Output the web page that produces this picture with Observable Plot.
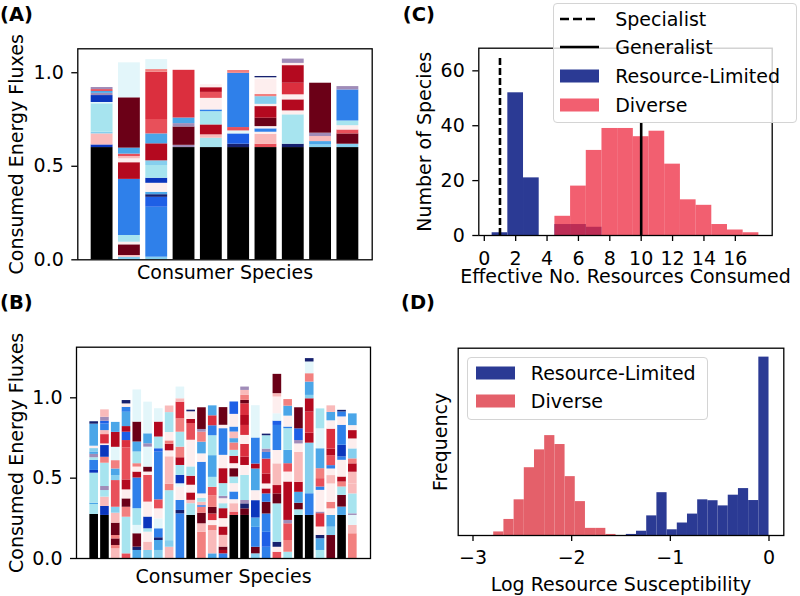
<!DOCTYPE html>
<html><head><meta charset="utf-8">
<script src="https://cdn.jsdelivr.net/npm/d3@7"></script>
<script src="https://cdn.jsdelivr.net/npm/@observablehq/plot@0.6"></script>
<style>
body{margin:0;background:#fff;font-family:"DejaVu Sans",sans-serif;}
#fig{position:relative;width:800px;height:596px;overflow:hidden;background:#fff;}
.panel{position:absolute;}
.legend{position:absolute;background:rgba(255,255,255,0.8);border:1px solid #d4d4d4;border-radius:4px;box-sizing:border-box;font-size:19px;color:#000;}
#tags{position:absolute;left:0;top:0;pointer-events:none;}
</style></head><body><div id="fig"></div>
<script>
// ---------- data ----------
// Panel A: 10 consumer species, stacked energy fluxes [value, resource-colour code]
const A1 = [[0.60,"K"],[0.014,"D"],[0.059,"Q"],[0.009,"L"],[0.152,"C"],[0.007,"P"],[0.037,"D"],[0.012,"V"],[0.01,"S"],[0.01,"O"],[0.011,"V"]];
const A2 = [[0.014,"L"],[0.009,"Q"],[0.057,"X"],[0.014,"W"],[0.036,"C"],[0.30,"M"],[0.089,"E"],[0.021,"W"],[0.012,"Q"],[0.013,"O"],[0.032,"S"],[0.269,"X"],[0.187,"P"]];
const A3 = [[0.014,"L"],[0.267,"M"],[0.053,"B"],[0.014,"N"],[0.013,"S"],[0.048,"W"],[0.027,"D"],[0.068,"C"],[0.025,"L"],[0.091,"E"],[0.053,"S"],[0.077,"O"],[0.253,"R"],[0.014,"F"],[0.053,"P"]];
const A4 = [[0.60,"K"],[0.012,"V"],[0.098,"X"],[0.018,"V"],[0.03,"S"],[0.255,"R"]];
const A5 = [[0.60,"K"],[0.05,"C"],[0.018,"Q"],[0.053,"E"],[0.071,"C"],[0.009,"M"],[0.062,"W"],[0.032,"O"],[0.025,"E"],[0.016,"W"]];
const A6 = [[0.60,"K"],[0.018,"N"],[0.055,"B"],[0.016,"P"],[0.018,"O"],[0.29,"M"],[0.015,"F"]];
const A7 = [[0.60,"K"],[0.018,"O"],[0.053,"Q"],[0.011,"W"],[0.018,"M"],[0.012,"W"],[0.045,"X"],[0.062,"E"],[0.012,"W"],[0.041,"L"],[0.012,"F"],[0.08,"W"],[0.009,"Z"],[0.007,"N"]];
const A8 = [[0.60,"K"],[0.018,"N"],[0.157,"C"],[0.021,"W"],[0.059,"E"],[0.027,"W"],[0.062,"R"],[0.094,"E"],[0.012,"W"],[0.023,"V"]];
const A9 = [[0.60,"K"],[0.014,"L"],[0.018,"S"],[0.027,"Q"],[0.018,"V"],[0.267,"X"]];
const A10 = [[0.60,"K"],[0.018,"L"],[0.055,"X"],[0.021,"O"],[0.023,"W"],[0.025,"C"],[0.166,"M"],[0.018,"V"]];
const barsA = [A1,A2,A3,A4,A5,A6,A7,A8,A9,A10];

// Panel B: 25 consumer species
const B1 = [[0.274,"K"],[0.062,"C"],[0.008,"S"],[0.187,"C"],[0.017,"D"],[0.062,"M"],[0.017,"C"],[0.021,"V"],[0.015,"S"],[0.021,"L"],[0.015,"W"],[0.137,"S"],[0.015,"N"]];
const B2 = [[0.268,"K"],[0.056,"D"],[0.058,"Q"],[0.041,"C"],[0.025,"V"],[0.145,"C"],[0.037,"F"],[0.073,"D"],[0.01,"W"],[0.058,"R"],[0.025,"Q"],[0.041,"M"],[0.017,"B"],[0.025,"V"],[0.046,"Q"]];
const B3 = [[0.06,"Q"],[0.021,"F"],[0.041,"X"],[0.021,"F"],[0.077,"X"],[0.062,"Q"],[0.037,"L"],[0.166,"O"],[0.031,"L"],[0.041,"S"],[0.052,"F"],[0.083,"P"],[0.093,"E"],[0.062,"S"]];
const B4 = [[0.029,"O"],[0.228,"C"],[0.062,"F"],[0.052,"X"],[0.056,"W"],[0.062,"E"],[0.199,"O"],[0.046,"R"],[0.052,"B"],[0.035,"E"],[0.089,"S"],[0.031,"M"],[0.021,"W"],[0.021,"N"]];
const B5 = [[0.05,"S"],[0.021,"N"],[0.083,"X"],[0.052,"P"],[0.104,"C"],[0.191,"M"],[0.037,"E"],[0.031,"W"],[0.021,"F"],[0.073,"C"],[0.062,"S"],[0.124,"X"],[0.2,"P"]];
const B6 = [[0.05,"L"],[0.052,"Q"],[0.062,"W"],[0.021,"C"],[0.073,"D"],[0.093,"W"],[0.166,"O"],[0.021,"W"],[0.031,"X"],[0.124,"P"],[0.021,"V"],[0.062,"S"],[0.197,"P"]];
const B7 = [[0.05,"L"],[0.062,"S"],[0.017,"N"],[0.056,"M"],[0.062,"P"],[0.062,"W"],[0.056,"O"],[0.297,"M"],[0.021,"B"],[0.073,"C"],[0.093,"E"],[0.083,"P"]];
const B8 = [[0.07,"Q"],[0.041,"L"],[0.311,"C"],[0.041,"F"],[0.17,"Q"],[0.037,"W"],[0.041,"E"],[0.021,"F"],[0.052,"W"],[0.124,"C"],[0.041,"Q"]];
const B9 = [[0.278,"M"],[0.021,"N"],[0.062,"M"],[0.083,"W"],[0.021,"P"],[0.052,"D"],[0.062,"C"],[0.048,"E"],[0.066,"F"],[0.093,"C"],[0.083,"F"],[0.104,"R"],[0.021,"Q"],[0.073,"P"]];
const B10 = [[0.268,"K"],[0.073,"C"],[0.021,"Q"],[0.046,"E"],[0.048,"W"],[0.056,"E"],[0.058,"C"],[0.166,"W"],[0.104,"O"],[0.025,"E"],[0.048,"W"],[0.01,"N"]];
const B11 = [[0.164,"F"],[0.052,"Q"],[0.066,"X"],[0.037,"F"],[0.01,"M"],[0.021,"Q"],[0.025,"C"],[0.027,"W"],[0.197,"M"],[0.052,"W"],[0.073,"S"],[0.062,"F"],[0.017,"V"],[0.135,"X"]];
const B12 = [[0.029,"S"],[0.145,"Q"],[0.031,"F"],[0.031,"W"],[0.041,"R"],[0.041,"X"],[0.073,"F"],[0.052,"O"],[0.062,"C"],[0.135,"S"],[0.124,"C"],[0.062,"M"],[0.062,"R"],[0.062,"S"]];
const B13 = [[0.029,"M"],[0.021,"E"],[0.021,"X"],[0.073,"Q"],[0.052,"E"],[0.052,"W"],[0.062,"E"],[0.031,"C"],[0.031,"W"],[0.015,"V"],[0.079,"C"],[0.093,"E"],[0.083,"W"],[0.166,"M"],[0.021,"W"],[0.11,"X"]];
const B14 = [[0.268,"K"],[0.021,"O"],[0.052,"Q"],[0.025,"W"],[0.048,"M"],[0.052,"W"],[0.041,"C"],[0.052,"X"],[0.031,"W"],[0.046,"E"],[0.037,"C"],[0.046,"F"],[0.027,"S"],[0.041,"Q"],[0.031,"M"],[0.079,"W"],[0.077,"B"]];
const B15 = [[0.268,"K"],[0.041,"X"],[0.031,"N"],[0.021,"V"],[0.156,"C"],[0.062,"W"],[0.052,"E"],[0.079,"R"],[0.056,"W"],[0.062,"R"],[0.062,"E"],[0.073,"R"],[0.021,"X"],[0.031,"F"],[0.031,"Q"],[0.021,"V"]];
const B16 = [[0.029,"L"],[0.041,"X"],[0.124,"M"],[0.058,"S"],[0.108,"D"],[0.062,"W"],[0.135,"S"],[0.031,"E"],[0.162,"M"],[0.201,"P"]];
const B17 = [[0.07,"M"],[0.093,"B"],[0.114,"M"],[0.073,"X"],[0.052,"M"],[0.031,"E"],[0.031,"W"],[0.062,"E"],[0.093,"R"],[0.041,"M"],[0.021,"V"],[0.083,"C"],[0.01,"N"]];
const B18 = [[0.039,"O"],[0.031,"W"],[0.031,"N"],[0.239,"C"],[0.062,"X"],[0.052,"E"],[0.135,"Q"],[0.083,"W"],[0.156,"M"],[0.027,"B"],[0.046,"P"],[0.104,"W"],[0.021,"Q"],[0.12,"X"]];
const B19 = [[0.039,"C"],[0.073,"F"],[0.104,"O"],[0.021,"V"],[0.239,"E"],[0.062,"W"],[0.052,"O"],[0.083,"S"],[0.135,"C"],[0.01,"M"],[0.068,"W"],[0.062,"S"],[0.041,"F"]];
const B20 = [[0.268,"K"],[0.035,"C"],[0.041,"X"],[0.068,"S"],[0.062,"E"],[0.187,"Q"],[0.052,"W"],[0.021,"V"],[0.073,"B"],[0.131,"X"]];
const B21 = [[0.268,"K"],[0.135,"M"],[0.315,"L"],[0.062,"E"],[0.131,"R"],[0.083,"E"],[0.021,"L"],[0.083,"S"],[0.052,"F"],[0.073,"P"],[0.021,"N"]];
const B22 = [[0.05,"C"],[0.073,"S"],[0.021,"N"],[0.052,"W"],[0.083,"R"],[0.01,"V"],[0.135,"W"],[0.021,"M"],[0.052,"O"],[0.062,"F"],[0.124,"S"],[0.124,"P"],[0.124,"C"]];
const B23 = [[0.143,"X"],[0.052,"L"],[0.073,"S"],[0.041,"W"],[0.041,"F"],[0.114,"W"],[0.052,"Q"],[0.041,"W"],[0.021,"M"],[0.062,"O"],[0.041,"E"],[0.124,"R"],[0.052,"W"],[0.052,"S"],[0.041,"Q"]];
const B24 = [[0.268,"K"],[0.052,"S"],[0.073,"X"],[0.052,"C"],[0.031,"F"],[0.031,"E"],[0.104,"W"],[0.021,"M"],[0.073,"D"],[0.124,"M"],[0.052,"W"],[0.031,"M"],[0.01,"N"]];
const B25 = [[0.154,"F"],[0.052,"Q"],[0.062,"P"],[0.01,"V"],[0.124,"C"],[0.062,"Q"],[0.073,"Q"],[0.052,"E"],[0.031,"F"],[0.062,"L"],[0.062,"W"],[0.052,"E"],[0.031,"W"],[0.073,"S"]];
const barsB = [B1,B2,B3,B4,B5,B6,B7,B8,B9,B10,B11,B12,B13,B14,B15,B16,B17,B18,B19,B20,B21,B22,B23,B24,B25];

const yTicksAB = [0, 0.5, 1.0];

// Panel C: histogram of effective number of resources consumed (bin centres, counts)
const cLimitedBins = [1, 2, 3, 5, 6, 7];
const cLimitedCounts = [1, 52, 21, 4, 4, 3];
const cDiverseBins = [5, 6, 7, 8, 9, 10, 11, 12, 13, 14, 15, 16, 17];
const cDiverseCounts = [7, 18, 31, 39, 39, 36, 38, 26, 13, 11, 4, 2, 1];
const cBinWidth = 1;
const cSpecialist = 1, cGeneralist = 10;
const cSpecialistTop = 65, cGeneralistTop = 41;
const cXTicks = [0, 2, 4, 6, 8, 10, 12, 14, 16];
const cYTicks = [0, 20, 40, 60];

// Panel D: histogram of log resource susceptibility
const dDiverseStart = -2.79, dLimitedStart = -1.446, dBinWidth = 0.1033;
const dDiverseCounts = [2, 9, 20, 38, 48, 56, 51, 33, 19, 4, 4, 0.6];
const dLimitedCounts = [0.6, 2.4, 11, 24, 3.2, 7, 12, 20, 19.5, 16.6, 22.6, 26.3, 19.6, 100];
const dXTicks = [-3, -2, -1, 0];

// ---------- styles ----------
const palette = {K:"#000000", N:"#16206e", D:"#0b36bd", B:"#1e5fe6", M:"#2f80ea", S:"#4ba6e8",
  L:"#86cfee", C:"#a7e4ef", P:"#e3f6fa", W:"#fdeeee", Q:"#f9baba", F:"#f2807f", O:"#e8505a",
  R:"#db2f3e", E:"#b4091f", X:"#6b0017", V:"#a08cb8", Z:"#fdfbfb"};
const navy = "#2b3a94", redC = "#ee2a40", redD = "#e4606a";
const FS = 19;
const baseStyle = {fontFamily:"DejaVu Sans", fontSize:FS+"px", color:"black", background:"transparent", overflow:"visible"};

function stackRows(bars){
  const rows = [];
  bars.forEach((segs, i) => { let y = 0; for (const [v, c] of segs) { rows.push({i, y1:y, y2:y+v, fill:palette[c]}); y += v; } });
  return rows;
}

function barPanel(bars, opts){
  const n = bars.length, pad = 0.05*(n - 1 + 0.8);
  return Plot.plot({
    width: opts.width, height: opts.height,
    marginLeft: opts.ml, marginRight: opts.mr, marginTop: opts.mt, marginBottom: opts.mb,
    x: {domain: [-0.4 - pad, n - 1 + 0.4 + pad], axis: null},
    y: {domain: opts.ydomain},
    color: {type: "identity"},
    style: baseStyle,
    marks: [
      Plot.rect(stackRows(bars), {x1: d => d.i - 0.4, x2: d => d.i + 0.4, y1: "y1", y2: "y2", fill: "fill"}),
      Plot.frame({stroke: "black", strokeWidth: 1.3}),
      Plot.axisY({ticks: yTicksAB, tickFormat: d3.format(".1f"), tickSize: 6, tickPadding: 8, strokeWidth: 1.3, fontSize: FS, label: null}),
      Plot.text(["Consumed Energy Fluxes"], {frameAnchor: "left", rotate: -90, dx: opts.ylabDx, lineAnchor: "top", textAnchor: "middle", fontSize: FS}),
      Plot.text(["Consumer Species"], {frameAnchor: "bottom", dy: opts.xlabDy, lineAnchor: "top", fontSize: FS})
    ]
  });
}

const fig = document.getElementById("fig");
function place(el, left, top){ const w = document.createElement("div"); w.className = "panel"; w.style.left = left+"px"; w.style.top = top+"px"; w.appendChild(el); fig.appendChild(w); }

// Panel A
place(barPanel(barsA, {width:390, height:290, ml:77.3, mr:18.3, mt:48.3, mb:30.7, ydomain:[0,1.128], ylabDx:-68.5, xlabDy:6}), 0, 0);
// Panel B
place(barPanel(barsB, {width:390, height:306, ml:76, mr:20, mt:56.7, mb:38, ydomain:[0,1.315], ylabDx:-67, xlabDy:11}), 0, 290);

// Panel C
const cLim = cLimitedBins.map((b, k) => ({x1: b - cBinWidth/2, x2: b + cBinWidth/2, n: cLimitedCounts[k]}));
const cDiv = cDiverseBins.map((b, k) => ({x1: b - cBinWidth/2, x2: b + cBinWidth/2, n: cDiverseCounts[k]}));
const plotC = Plot.plot({
  width: 410, height: 290, marginLeft: 88.3, marginRight: 28.3, marginTop: 47.7, marginBottom: 55,
  x: {domain: [-0.35, 18.35]},
  y: {domain: [0, 68.25]},
  style: baseStyle,
  marks: [
    Plot.rect(cLim, {x1: "x1", x2: "x2", y1: 0, y2: "n", fill: navy}),
    Plot.rect(cDiv, {x1: "x1", x2: "x2", y1: 0, y2: "n", fill: redC, fillOpacity: 0.75}),
    Plot.ruleX([cSpecialist], {y1: 0, y2: cSpecialistTop, stroke: "black", strokeWidth: 2.6, strokeDasharray: "7,3"}),
    Plot.ruleX([cGeneralist], {y1: 0, y2: cGeneralistTop, stroke: "black", strokeWidth: 2.6}),
    Plot.frame({stroke: "black", strokeWidth: 1.3}),
    Plot.axisY({ticks: cYTicks, tickSize: 6, tickPadding: 8, strokeWidth: 1.3, fontSize: FS, label: null}),
    Plot.axisX({ticks: cXTicks, tickSize: 6, tickPadding: 10, strokeWidth: 1.3, fontSize: FS, label: null}),
    Plot.text(["Number of Species"], {frameAnchor: "left", rotate: -90, dx: -61, lineAnchor: "top", textAnchor: "middle", fontSize: FS}),
    Plot.text(["Effective No. Resources Consumed"], {frameAnchor: "bottom", dy: 33.5, lineAnchor: "top", fontSize: FS})
  ]
});
place(plotC, 390, 0);

// Panel D
const dDiv = dDiverseCounts.map((n, k) => ({x1: dDiverseStart + k*dBinWidth, x2: dDiverseStart + (k+1)*dBinWidth, n}));
const dLim = dLimitedCounts.map((n, k) => ({x1: dLimitedStart + k*dBinWidth, x2: dLimitedStart + (k+1)*dBinWidth, n}));
const plotD = Plot.plot({
  width: 410, height: 306, marginLeft: 67.7, marginRight: 16.7, marginTop: 57.7, marginBottom: 61,
  x: {domain: [-3.15, 0.15]},
  y: {domain: [0, 105], axis: null},
  style: baseStyle,
  marks: [
    Plot.rect(dDiv, {x1: "x1", x2: "x2", y1: 0, y2: "n", fill: redD}),
    Plot.rect(dLim, {x1: "x1", x2: "x2", y1: 0, y2: "n", fill: navy}),
    Plot.frame({stroke: "black", strokeWidth: 1.3}),
    Plot.axisX({ticks: dXTicks, tickFormat: d3.format("d"), tickSize: 6, tickPadding: 9, strokeWidth: 1.3, fontSize: FS, label: null}),
    Plot.text(["Frequency"], {frameAnchor: "left", rotate: -90, dx: -25, lineAnchor: "top", textAnchor: "middle", fontSize: FS}),
    Plot.text(["Log Resource Susceptibility"], {frameAnchor: "bottom", dy: 41.5, lineAnchor: "top", fontSize: FS})
  ]
});
place(plotD, 390, 290);

// Legends (HTML overlays)
function swatch(kind, color){
  const ns = "http://www.w3.org/2000/svg";
  const s = document.createElementNS(ns, "svg"); s.setAttribute("width", 39); s.setAttribute("height", 14);
  if (kind === "rect") { const r = document.createElementNS(ns, "rect"); r.setAttribute("width", 39); r.setAttribute("height", 13); r.setAttribute("y", 0.5); r.setAttribute("fill", color.fill); if (color.opacity) r.setAttribute("fill-opacity", color.opacity); s.appendChild(r); }
  else { const l = document.createElementNS(ns, "line"); l.setAttribute("x1", 0); l.setAttribute("x2", 39); l.setAttribute("y1", 7); l.setAttribute("y2", 7); l.setAttribute("stroke", "black"); l.setAttribute("stroke-width", 2.6); if (kind === "dash") l.setAttribute("stroke-dasharray", "9,4"); s.appendChild(l); }
  return s;
}
function legend(left, top, w, h, items, x0, xText, y0, dy){
  const box = document.createElement("div"); box.className = "legend";
  Object.assign(box.style, {left: left+"px", top: top+"px", width: w+"px", height: h+"px"});
  items.forEach((it, k) => {
    const sw = swatch(it.kind, it.color); sw.style.position = "absolute"; sw.style.left = x0+"px"; sw.style.top = (y0 + k*dy - 7)+"px";
    box.appendChild(sw);
    const t = document.createElement("div"); t.textContent = it.label;
    Object.assign(t.style, {position: "absolute", left: xText+"px", top: (y0 + k*dy - 12)+"px", lineHeight: "24px", whiteSpace: "nowrap"});
    box.appendChild(t);
  });
  fig.appendChild(box);
}
legend(552.7, 3.3, 244, 119.4, [
  {kind: "dash", label: "Specialist"},
  {kind: "solid", label: "Generalist"},
  {kind: "rect", color: {fill: navy}, label: "Resource-Limited"},
  {kind: "rect", color: {fill: redC, opacity: 0.75}, label: "Diverse"}
], 6.5, 61.5, 14.5, 28.7);
legend(467.3, 357.3, 241, 62.7, [
  {kind: "rect", color: {fill: navy}, label: "Resource-Limited"},
  {kind: "rect", color: {fill: redD}, label: "Diverse"}
], 7.5, 62.5, 14.8, 28.4);

// Panel tags
const tags = [["(A)", 0, 21, "start"], ["(B)", 0, 308.5, "start"], ["(C)", 435, 21, "end"], ["(D)", 435, 309, "end"]];
const svgNS = "http://www.w3.org/2000/svg";
const tsvg = document.createElementNS(svgNS, "svg");
tsvg.setAttribute("id", "tags"); tsvg.setAttribute("width", 800); tsvg.setAttribute("height", 596);
for (const [t, x, y, a] of tags) {
  const el = document.createElementNS(svgNS, "text");
  el.setAttribute("x", x); el.setAttribute("y", y); el.setAttribute("text-anchor", a);
  el.setAttribute("font-family", "DejaVu Sans"); el.setAttribute("font-weight", "bold"); el.setAttribute("font-size", 19.5);
  el.textContent = t; tsvg.appendChild(el);
}
fig.appendChild(tsvg);
</script></body></html>
